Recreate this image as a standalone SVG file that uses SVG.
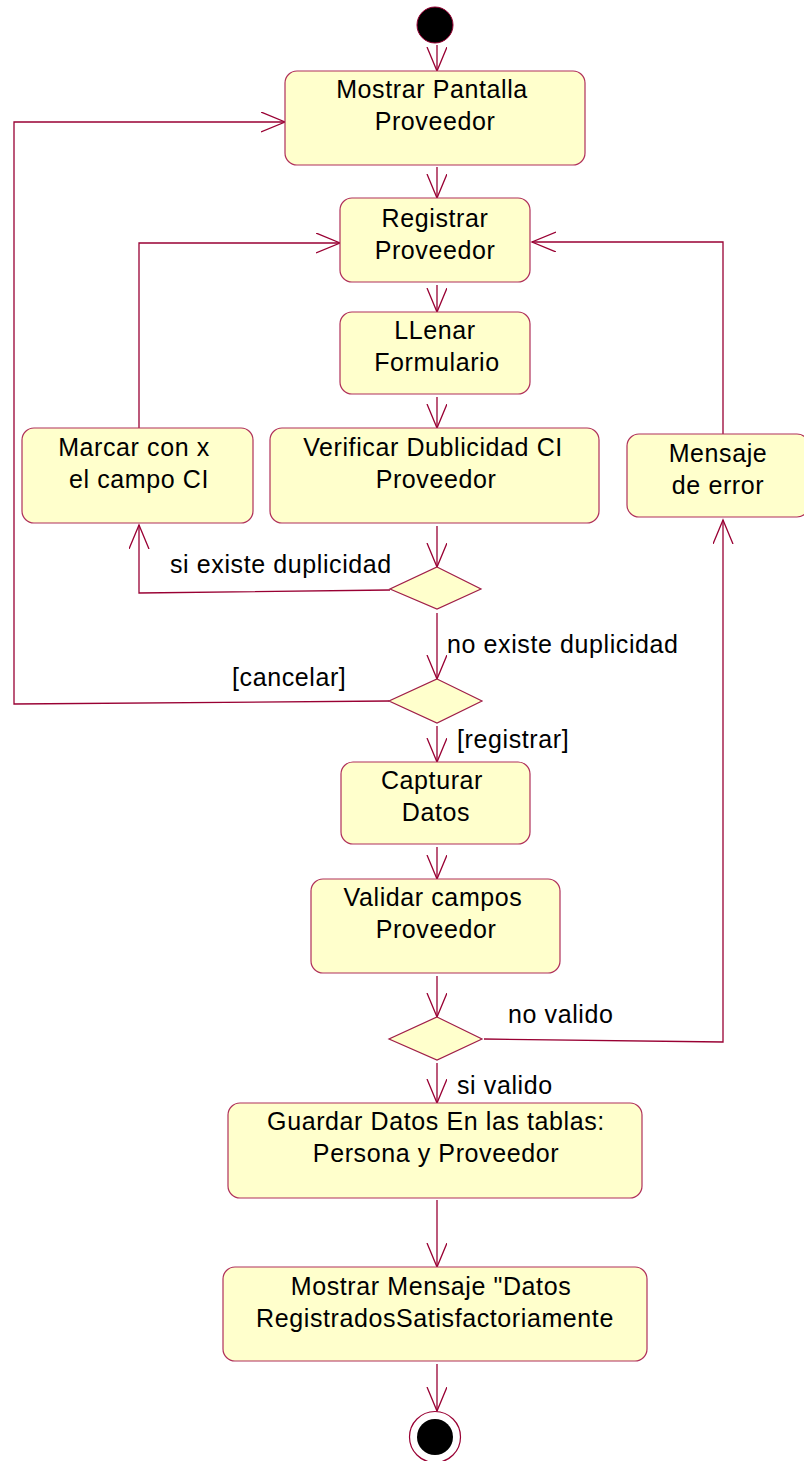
<svg xmlns="http://www.w3.org/2000/svg" width="804" height="1461" viewBox="0 0 804 1461">
<style>
.box{fill:#FFFFCC;stroke:#B0305A;stroke-width:1.2}
.dia{fill:#FFFFCC;stroke:#A01F48;stroke-width:1.2}
.ln{fill:none;stroke:#990033;stroke-width:1.3;marker-end:url(#arr)}
text{font-family:"Liberation Sans",Arial,sans-serif;font-size:25px;letter-spacing:0.6px;fill:#000}
.c{text-anchor:middle}
</style>
<defs>
<marker id="arr" markerUnits="userSpaceOnUse" markerWidth="26" markerHeight="22" refX="24" refY="10" orient="auto" viewBox="0 0 26 22">
<path d="M0,0 L24,10 L0,20" fill="none" stroke="#990033" stroke-width="1.3"/>
</marker>
</defs>
<g id="connectors">
<line class="ln" x1="437" y1="45" x2="437" y2="71"/>
<line class="ln" x1="437" y1="167" x2="437" y2="198"/>
<line class="ln" x1="437" y1="285" x2="437" y2="312"/>
<line class="ln" x1="437" y1="397" x2="437" y2="428"/>
<line class="ln" x1="437" y1="526" x2="437" y2="567"/>
<line class="ln" x1="437" y1="613" x2="437" y2="679"/>
<line class="ln" x1="437" y1="726" x2="437" y2="762"/>
<line class="ln" x1="437" y1="847" x2="437" y2="879"/>
<line class="ln" x1="437" y1="976" x2="437" y2="1017"/>
<line class="ln" x1="437" y1="1063" x2="437" y2="1103"/>
<line class="ln" x1="437" y1="1200" x2="437" y2="1267"/>
<line class="ln" x1="437" y1="1364" x2="437" y2="1411"/>
<polyline class="ln" points="139,428 139,243 340,243"/>
<polyline class="ln" points="390,590 139,593 139,525"/>
<polyline class="ln" points="389,701 14,704 14,122 285,122"/>
<polyline class="ln" points="723,434 723,242 532,242"/>
<polyline class="ln" points="484,1039 723,1042 723,520"/>
<text x="170" y="573">si existe duplicidad</text>
<text x="447" y="653">no existe duplicidad</text>
<text x="232" y="686">[cancelar]</text>
<text x="457" y="748">[registrar]</text>
<text x="508" y="1023">no valido</text>
<text x="457" y="1094">si valido</text>
</g>
<g id="start"><circle cx="435" cy="25" r="18" fill="#000" stroke="#990033" stroke-width="1"/></g>
<g id="mostrarPantalla"><rect class="box" x="285" y="71" width="300" height="94" rx="12"/><text class="c" x="432" y="98">Mostrar Pantalla</text><text class="c" x="435" y="130">Proveedor</text></g>
<g id="registrar"><rect class="box" x="340" y="198" width="190" height="84" rx="12"/><text class="c" x="435" y="227">Registrar</text><text class="c" x="435" y="259">Proveedor</text></g>
<g id="llenar"><rect class="box" x="340" y="312" width="190" height="82" rx="12"/><text class="c" x="435" y="339">LLenar</text><text class="c" x="437" y="371">Formulario</text></g>
<g id="marcar"><rect class="box" x="22" y="428" width="231" height="95" rx="12"/><text class="c" x="134" y="456">Marcar con x</text><text class="c" x="139" y="488">el campo CI</text></g>
<g id="verificar"><rect class="box" x="270" y="428" width="329" height="95" rx="12"/><text class="c" x="433" y="456">Verificar Dublicidad CI</text><text class="c" x="436" y="488">Proveedor</text></g>
<g id="mensajeError"><rect class="box" x="627" y="434" width="182" height="83" rx="12"/><text class="c" x="718" y="462">Mensaje</text><text class="c" x="718" y="494">de error</text></g>
<g id="decision1"><polygon class="dia" points="437,567 481,589 437,609 390,589"/></g>
<g id="decision2"><polygon class="dia" points="437,679 482,701 437,723 389,701"/></g>
<g id="capturar"><rect class="box" x="341" y="762" width="189" height="82" rx="12"/><text class="c" x="432" y="789">Capturar</text><text class="c" x="436" y="821">Datos</text></g>
<g id="validar"><rect class="box" x="311" y="879" width="249" height="94" rx="12"/><text class="c" x="433" y="906">Validar campos</text><text class="c" x="436" y="938">Proveedor</text></g>
<g id="decision3"><polygon class="dia" points="437,1017 482,1039 437,1060 389,1039"/></g>
<g id="guardar"><rect class="box" x="228" y="1103" width="414" height="95" rx="12"/><text class="c" x="436" y="1130">Guardar Datos En las tablas:</text><text class="c" x="436" y="1162">Persona y Proveedor</text></g>
<g id="mostrarMensaje"><rect class="box" x="223" y="1267" width="424" height="94" rx="12"/><text class="c" x="431" y="1295">Mostrar Mensaje "Datos</text><text class="c" x="435" y="1327">RegistradosSatisfactoriamente</text></g>
<g id="end"><circle cx="435" cy="1437" r="25.5" fill="#fff" stroke="#990033" stroke-width="1.2"/><circle cx="435" cy="1437" r="18" fill="#000"/></g>
</svg>
